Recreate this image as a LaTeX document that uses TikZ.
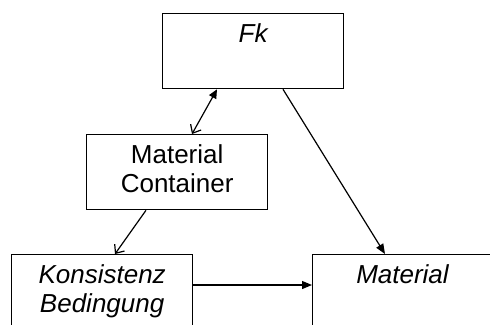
\documentclass[tikz,border=0pt]{standalone}
\usepackage{fontspec}
\setmainfont{Liberation Sans}
\usetikzlibrary{arrows.meta,calc}
\newcommand\boxtxt[1]{\parbox[c][75pt][t]{181pt}{\centering\rule{0pt}{29pt}#1\par}}
\begin{document}
\begin{tikzpicture}[x=1pt,y=-1pt,
  box/.style={draw, line width=1.3pt, inner sep=0pt, anchor=north west,
    font=\fontsize{26}{29}\selectfont},
  openbox/.style={box, draw=none, outer sep=0pt},
  edge/.style={line width=1.0pt},
  conn/.style={line width=1.2pt},
  filledhead/.style={-{Triangle[length=10pt,width=8pt]}},
  openhead/.style={-{Straight Barb[length=7pt,width=12pt]}}
]
\useasboundingbox (0,0) rectangle (490,324);
\clip (0,0) rectangle (490,324);
\node[box] (fk)  at (162,13)  {\boxtxt{\itshape Fk}};
\node[box] (mc)  at (86,134)  {\boxtxt{Material\\Container}};
\node[box] (kon) at (11,254)  {\boxtxt{\itshape Konsistenz\\Bedingung}};
\node[openbox] (mat) at (312,254) {\boxtxt{\itshape Material}};
\draw[edge] (mat.south west) -- (mat.north west) -- ([xshift=40pt]mat.north east);
\draw[conn, {Triangle[length=9pt,width=8pt]}-{Straight Barb[length=7pt,width=12pt]}]
  ([xshift=55pt]fk.south west) -- ([xshift=106pt]mc.north west);
\draw[conn, openhead] ([xshift=60pt]mc.south west) -- ([xshift=104pt]kon.north west);
\draw[conn, filledhead] ([xshift=121pt]fk.south west) -- ([xshift=73pt]mat.north west);
\draw[conn, filledhead] ([yshift=-31pt]kon.north east) -- ([yshift=-31pt]mat.north west);
\end{tikzpicture}
\end{document}
